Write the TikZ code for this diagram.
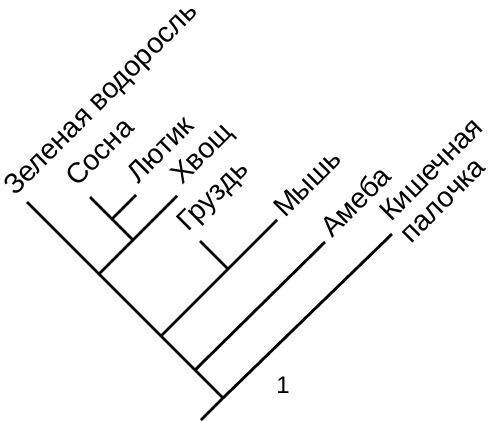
\documentclass[tikz,border=0pt]{standalone}
\usepackage{fontspec}
\setmainfont{Liberation Sans}
\begin{document}
\begin{tikzpicture}[x=1pt,y=1pt,
    branch/.style={line width=2.8pt},
    taxon/.style={rotate=45,anchor=base west,inner sep=0pt,
      font=\fontsize{28.5}{34}\selectfont}]
    \useasboundingbox (0,0) rectangle (492,-420);
    % branching points
    \coordinate (root) at (201,-420);
    \coordinate (kj) at (223,-398);
    \coordinate (aj) at (195,-370);
    \coordinate (mj) at (161,-336);
    \coordinate (pj) at (99,-274);
    \coordinate (hj) at (133,-240);
    \coordinate (sj) at (112,-219);
    \coordinate (gj) at (228,-269);
    % tips
    \coordinate (zel) at (27,-202);
    \coordinate (sos) at (90,-197);
    \coordinate (lyu) at (136,-195);
    \coordinate (hvo) at (177,-196);
    \coordinate (gru) at (200,-241);
    \coordinate (mys) at (277,-220);
    \coordinate (ame) at (325,-242);
    \coordinate (kis) at (392,-234);
    % branches
    \draw[branch] (root) -- (kj) -- (kis);
    \draw[branch] (kj) -- (zel);
    \draw[branch] (aj) -- (ame);
    \draw[branch] (mj) -- (mys);
    \draw[branch] (gj) -- (gru);
    \draw[branch] (pj) -- (hvo);
    \draw[branch] (hj) -- (sos);
    \draw[branch] (sj) -- (lyu);
    % labels
    \node[taxon] (zelL) at (15,-197) {Зеленая водоросль};
    \node[taxon] (sosL) at (77,-188) {Сосна};
    \node[taxon] (lyuL) at (138,-185) {Лютик};
    \node[taxon] (hvoL) at (182,-186) {Хвощ};
    \node[taxon] (gruL) at (188,-233) {Груздь};
    \node[taxon] (mysL) at (285,-219) {Мышь};
    \node[taxon] (ameL) at (332,-239) {Амеба};
    \node[taxon] (kisL) at (391,-223) {Кишечная};
    \node[taxon] (palL) at (411,-245) {палочка};
    \node[font=\fontsize{24}{28}\selectfont] (one) at (283,-385) {1};
\end{tikzpicture}
\end{document}
